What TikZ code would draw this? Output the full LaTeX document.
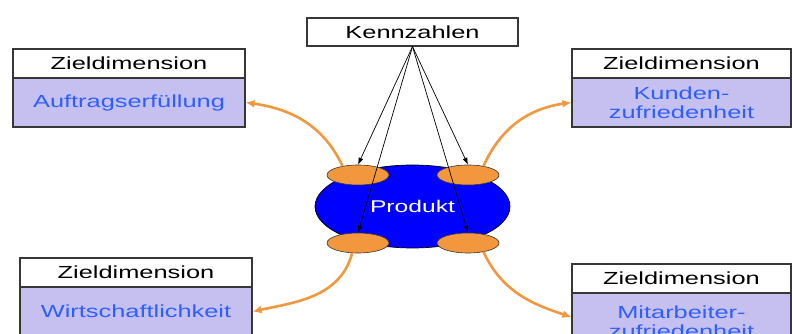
\documentclass[tikz,border=0pt]{standalone}
\usepackage{fontspec}
\setmainfont{Liberation Sans}
\usepackage{graphicx}
\usetikzlibrary{arrows.meta,shapes.geometric,calc}
\definecolor{orangeF}{RGB}{243,151,63}
\definecolor{lavender}{RGB}{198,192,240}
\definecolor{textblue}{RGB}{45,95,255}
\definecolor{prodblue}{RGB}{0,0,255}
\definecolor{edgegray}{RGB}{55,55,55}
\newcommand{\wtext}[1]{\scalebox{1.45}[1]{#1}}
\begin{document}
\begin{tikzpicture}[x=1pt,y=1pt,
  hdr/.style={draw=edgegray,line width=1.1pt,fill=white,minimum width=#1,minimum height=29pt,inner sep=0pt,font=\fontsize{17.5}{19}\selectfont},
  body/.style={draw=edgegray,line width=1.1pt,fill=lavender,minimum width=#1,inner sep=0pt,text=textblue,align=center,font=\fontsize{17.5}{19}\selectfont},
  oell/.style={ellipse,draw=edgegray,line width=0.6pt,fill=orangeF,minimum width=62pt,minimum height=20pt,inner sep=0pt},
  prod/.style={ellipse,draw=black,line width=0.7pt,fill=prodblue,minimum width=195pt,minimum height=83pt,inner sep=0pt,text=white,font=\fontsize{17}{19}\selectfont},
  karrow/.style={-{Latex[length=7pt,width=5pt]},line width=0.7pt,draw=black},
  oarrow/.style={-{Latex[length=9pt,width=8pt]},line width=2.6pt,draw=orangeF}
]
\useasboundingbox (0,0) rectangle (792,334);
\clip (0,0) rectangle (792,334);

% Kennzahlen
\node[hdr=211pt,minimum height=28pt] (K) at (412.5,302) {\wtext{Kennzahlen}};

% Zieldimension boxes
\node[hdr=232pt] (a1) at (129,270.5) {\wtext{Zieldimension}};
\node[body=232pt,minimum height=49pt] (a2) at (129,231.5) {\wtext{Auftragserfüllung}};

\node[hdr=219pt] (b1) at (681.5,270.5) {\wtext{Zieldimension}};
\node[body=219pt,minimum height=49pt] (b2) at (681.5,231.5) {\wtext{Kunden-}\\\wtext{zufriedenheit}};

\node[hdr=232pt] (c1) at (136,61.5) {\wtext{Zieldimension}};
\node[body=232pt,minimum height=49pt] (c2) at (136,22.5) {\wtext{Wirtschaftlichkeit}};

\node[hdr=219pt] (d1) at (681.5,55.5) {\wtext{Zieldimension}};
\node[body=219pt,minimum height=57pt] (d2) at (681.5,12.5) {\wtext{Mitarbeiter-}\\\wtext{zufriedenheit}};

% Product
\node[prod] (P) at (412.5,127.5) {\wtext{Produkt}};
\node[oell] (o1) at (358,159) {};
\node[oell] (o2) at (468,159) {};
\node[oell] (o3) at (358,91) {};
\node[oell] (o4) at (468,91) {};

% Kennzahlen arrows
\draw[karrow] (K.south) -- (o1.north);
\draw[karrow] (K.south) -- (o2.north);
\draw[karrow] (K.south) -- (o3.north);
\draw[karrow] (K.south) -- (o4.north);

% orange connectors
\draw[oarrow] (o1.150) to[out=115,in=-8] (a2.east);
\draw[oarrow] (o2.30) to[out=66,in=188] (b2.west);
\draw[oarrow] (o3.240) to[out=-105,in=12] (c2.east);
\coordinate (d2t) at ($(d2.west)+(0,4.5)$);
\draw[oarrow] (o4.330) to[out=-65,in=162] (d2t);
\end{tikzpicture}
\end{document}
